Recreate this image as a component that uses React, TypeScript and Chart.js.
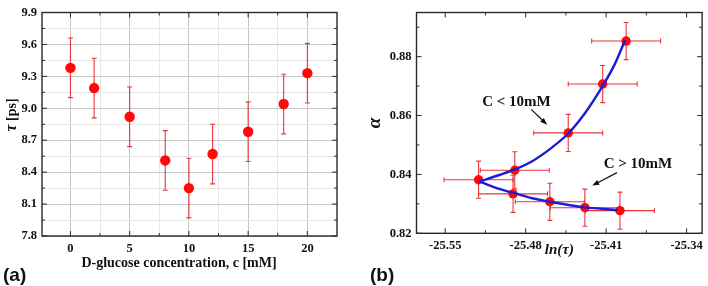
import React, { useEffect, useRef } from 'react';
import { Chart, registerables } from 'chart.js';
Chart.register(...registerables);

// ---------- Panel (a) data ----------
const concentrations = [0, 2, 5, 8, 10, 12, 15, 18, 20];
const tauValues = [9.38, 9.19, 8.92, 8.51, 8.25, 8.57, 8.78, 9.04, 9.33];
const tauErrors = [0.28, 0.28, 0.28, 0.28, 0.28, 0.28, 0.28, 0.28, 0.28];
const aXMajor = [0, 5, 10, 15, 20];
const aXMinor = [2.5, 7.5, 12.5, 17.5];
const aYMajor = [7.8, 8.1, 8.4, 8.7, 9.0, 9.3, 9.6, 9.9];
const aYMinor = [7.95, 8.25, 8.55, 8.85, 9.15, 9.45, 9.75];
const aXTitle = 'D-glucose concentration, c [mM]';
const aYTitleSymbol = 'τ';
const aYTitleUnit = ' [ps]';

// ---------- Panel (b) data ----------
const lnTau = [-25.521, -25.4895, -25.443, -25.413, -25.3926, -25.491, -25.459, -25.4285, -25.398];
const alphaValues = [0.8382, 0.8414, 0.8541, 0.8707, 0.8853, 0.8334, 0.8307, 0.8287, 0.8277];
const lnTauErrors = [0.03, 0.03, 0.03, 0.03, 0.03, 0.03, 0.03, 0.03, 0.03];
const alphaErrors = [0.0063, 0.0063, 0.0063, 0.0063, 0.0063, 0.0063, 0.0063, 0.0063, 0.0063];
const upperFitX = [-25.52, -25.503, -25.4895, -25.4743, -25.457, -25.443, -25.4285, -25.413, -25.4027, -25.3935];
const upperFitY = [0.8376, 0.8398, 0.8417, 0.8445, 0.8492, 0.8539, 0.8608, 0.8701, 0.8773, 0.8856];
const lowerFitX = [-25.52, -25.5059, -25.4909, -25.4743, -25.4588, -25.4428, -25.4285, -25.3998];
const lowerFitY = [0.8376, 0.8354, 0.8337, 0.8319, 0.8307, 0.8296, 0.8288, 0.8279];
const bXMajor = [-25.55, -25.48, -25.41, -25.34];
const bXMinor = [-25.515, -25.445, -25.375];
const bYMajor = [0.82, 0.84, 0.86, 0.88];
const bYMinor = [0.83, 0.85, 0.87, 0.89];
const annotationLabels = ['C < 10mM', 'C > 10mM'];
const annotationLabelX = [-25.488, -25.3823];
const annotationLabelY = [0.8647, 0.8436];
const arrowStartX = [-25.4752, -25.4006];
const arrowStartY = [0.8621, 0.8406];
const arrowEndX = [-25.4614, -25.4221];
const arrowEndY = [0.8569, 0.8362];

const SERIF = "'Liberation Serif', 'Times New Roman', serif";
const SANS = "'Liberation Sans', Arial, sans-serif";

const near = (arr: number[], v: number) => arr.some((m) => Math.abs(m - v) < 1e-6);

function setTicks(vals: number[]) {
  return (scale: any) => {
    scale.ticks = [...vals].sort((a, b) => a - b).map((v) => ({ value: v }));
  };
}

function framePlugin(xMajor: number[], xMinor: number[], yMajor: number[], yMinor: number[]) {
  return {
    id: 'frame',
    afterDatasetsDraw(chart: any) {
      const { ctx, chartArea: a, scales } = chart;
      const xs = scales.x;
      const ys = scales.y;
      ctx.save();
      ctx.strokeStyle = '#2a2a2a';
      ctx.lineWidth = 1;
      const drawX = (vals: number[], len: number) => {
        vals.forEach((v) => {
          const px = xs.getPixelForValue(v);
          if (px < a.left - 0.5 || px > a.right + 0.5) return;
          ctx.beginPath();
          ctx.moveTo(px, a.bottom);
          ctx.lineTo(px, a.bottom - len);
          ctx.moveTo(px, a.top);
          ctx.lineTo(px, a.top + len);
          ctx.stroke();
        });
      };
      const drawY = (vals: number[], len: number) => {
        vals.forEach((v) => {
          const py = ys.getPixelForValue(v);
          if (py < a.top - 0.5 || py > a.bottom + 0.5) return;
          ctx.beginPath();
          ctx.moveTo(a.left, py);
          ctx.lineTo(a.left + len, py);
          ctx.moveTo(a.right, py);
          ctx.lineTo(a.right - len, py);
          ctx.stroke();
        });
      };
      drawX(xMajor, 5);
      drawX(xMinor, 3);
      drawY(yMajor, 5);
      drawY(yMinor, 3);
      ctx.lineWidth = 1.4;
      ctx.strokeRect(a.left, a.top, a.right - a.left, a.bottom - a.top);
      ctx.restore();
    },
  };
}

function errorBarPlugin(xv: number[], yv: number[], xErr: number[] | null, yErr: number[], cap: number) {
  return {
    id: 'errorbars',
    beforeDatasetsDraw(chart: any) {
      const { ctx, scales } = chart;
      const xs = scales.x;
      const ys = scales.y;
      ctx.save();
      ctx.strokeStyle = '#e8363a';
      ctx.lineWidth = 1.1;
      for (let i = 0; i < xv.length; i++) {
        const px = xs.getPixelForValue(xv[i]);
        const py = ys.getPixelForValue(yv[i]);
        const top = ys.getPixelForValue(yv[i] + yErr[i]);
        const bot = ys.getPixelForValue(yv[i] - yErr[i]);
        ctx.beginPath();
        ctx.moveTo(px, top);
        ctx.lineTo(px, bot);
        ctx.moveTo(px - cap, top);
        ctx.lineTo(px + cap, top);
        ctx.moveTo(px - cap, bot);
        ctx.lineTo(px + cap, bot);
        if (xErr) {
          const l = xs.getPixelForValue(xv[i] - xErr[i]);
          const r = xs.getPixelForValue(xv[i] + xErr[i]);
          ctx.moveTo(l, py);
          ctx.lineTo(r, py);
          ctx.moveTo(l, py - cap);
          ctx.lineTo(l, py + cap);
          ctx.moveTo(r, py - cap);
          ctx.lineTo(r, py + cap);
        }
        ctx.stroke();
      }
      ctx.restore();
    },
  };
}

function panelLabelPlugin(text: string, x: number, y: number) {
  return {
    id: 'panelLabel',
    afterDraw(chart: any) {
      const { ctx } = chart;
      ctx.save();
      ctx.fillStyle = '#111';
      ctx.font = `bold 19px ${SANS}`;
      ctx.textAlign = 'left';
      ctx.textBaseline = 'middle';
      ctx.fillText(text, x, y);
      ctx.restore();
    },
  };
}

// axis titles of panel (a), with an italic tau
const titlesAPlugin = {
  id: 'titlesA',
  afterDraw(chart: any) {
    const { ctx } = chart;
    ctx.save();
    ctx.fillStyle = '#111';
    ctx.textBaseline = 'middle';
    ctx.textAlign = 'center';
    ctx.font = `bold 14px ${SERIF}`;
    ctx.fillText(aXTitle, 179, 263);
    // rotated y title
    ctx.translate(12, 115);
    ctx.rotate(-Math.PI / 2);
    const symFont = `italic bold 16px ${SERIF}`;
    const unitFont = `bold 14px ${SERIF}`;
    ctx.font = symFont;
    const w1 = ctx.measureText(aYTitleSymbol).width;
    ctx.font = unitFont;
    const w2 = ctx.measureText(aYTitleUnit).width;
    const start = -(w1 + w2) / 2;
    ctx.textAlign = 'left';
    ctx.font = symFont;
    ctx.fillText(aYTitleSymbol, start, 0);
    ctx.font = unitFont;
    ctx.fillText(aYTitleUnit, start + w1, 0);
    ctx.restore();
  },
};

const annotationPlugin = {
  id: 'annotations',
  afterDatasetsDraw(chart: any) {
    const { ctx, scales } = chart;
    const xs = scales.x;
    const ys = scales.y;
    ctx.save();
    ctx.fillStyle = '#111';
    ctx.strokeStyle = '#111';
    ctx.font = `bold 15px ${SERIF}`;
    ctx.textAlign = 'center';
    ctx.textBaseline = 'middle';
    annotationLabels.forEach((t, i) => {
      ctx.fillText(t, xs.getPixelForValue(annotationLabelX[i]), ys.getPixelForValue(annotationLabelY[i]));
      const x0 = xs.getPixelForValue(arrowStartX[i]);
      const y0 = ys.getPixelForValue(arrowStartY[i]);
      const x1 = xs.getPixelForValue(arrowEndX[i]);
      const y1 = ys.getPixelForValue(arrowEndY[i]);
      const ang = Math.atan2(y1 - y0, x1 - x0);
      const hl = 7;
      const hw = 2.6;
      ctx.lineWidth = 1.2;
      ctx.beginPath();
      ctx.moveTo(x0, y0);
      ctx.lineTo(x1 - Math.cos(ang) * hl * 0.8, y1 - Math.sin(ang) * hl * 0.8);
      ctx.stroke();
      ctx.beginPath();
      ctx.moveTo(x1, y1);
      ctx.lineTo(x1 - Math.cos(ang) * hl - Math.sin(ang) * hw, y1 - Math.sin(ang) * hl + Math.cos(ang) * hw);
      ctx.lineTo(x1 - Math.cos(ang) * hl + Math.sin(ang) * hw, y1 - Math.sin(ang) * hl - Math.cos(ang) * hw);
      ctx.closePath();
      ctx.fill();
    });
    ctx.restore();
  },
};

function configA(): any {
  return {
    type: 'scatter',
    data: {
      datasets: [
        {
          data: concentrations.map((c, i) => ({ x: c, y: tauValues[i] })),
          pointRadius: 5.2,
          pointBackgroundColor: '#ff0a0a',
          pointBorderWidth: 0,
          showLine: false,
        },
      ],
    },
    options: {
      responsive: false,
      animation: false,
      events: [],
      layout: { padding: { left: 0, right: 17, top: 4, bottom: 0 } },
      plugins: { legend: { display: false }, tooltip: { enabled: false } },
      scales: {
        x: {
          type: 'linear',
          min: -2.4,
          max: 22.5,
          afterBuildTicks: setTicks([...aXMajor, ...aXMinor]),
          afterFit: (s: any) => {
            s.height = 50;
          },
          ticks: {
            autoSkip: false,
            maxRotation: 0,
            minRotation: 0,
            padding: 5,
            color: '#111',
            font: { family: SERIF, size: 12.5, weight: 'bold' },
            callback: (v: number) => (near(aXMajor, v) ? String(Math.round(v)) : ''),
          },
          grid: {
            drawTicks: false,
            color: (c: any) => (c.tick && near(aXMajor, c.tick.value) ? '#c6c6c6' : '#e6e6e6'),
            lineWidth: 1,
          },
          border: { display: false },
          title: { display: false },
        },
        y: {
          type: 'linear',
          min: 7.8,
          max: 9.9,
          afterBuildTicks: setTicks([...aYMajor, ...aYMinor]),
          afterFit: (s: any) => {
            s.width = 42;
          },
          ticks: {
            autoSkip: false,
            padding: 5,
            color: '#111',
            font: { family: SERIF, size: 12.5, weight: 'bold' },
            callback: (v: number) => (near(aYMajor, v) ? v.toFixed(1) : ''),
          },
          grid: {
            drawTicks: false,
            color: (c: any) => (c.tick && near(aYMajor, c.tick.value) ? '#c6c6c6' : '#e6e6e6'),
            lineWidth: 1,
          },
          border: { display: false },
          title: { display: false },
        },
      },
    },
    plugins: [
      errorBarPlugin(concentrations, tauValues, null, tauErrors, 2.5),
      framePlugin(aXMajor, aXMinor, aYMajor, aYMinor),
      titlesAPlugin,
      panelLabelPlugin('(a)', 3, 276),
    ],
  };
}

function configB(): any {
  return {
    type: 'scatter',
    data: {
      datasets: [
        {
          data: upperFitX.map((x, i) => ({ x, y: upperFitY[i] })),
          showLine: true,
          pointRadius: 0,
          borderColor: '#1c1cd6',
          borderWidth: 2.4,
          cubicInterpolationMode: 'monotone',
          order: 0,
        },
        {
          data: lowerFitX.map((x, i) => ({ x, y: lowerFitY[i] })),
          showLine: true,
          pointRadius: 0,
          borderColor: '#1c1cd6',
          borderWidth: 2.4,
          cubicInterpolationMode: 'monotone',
          order: 0,
        },
        {
          data: lnTau.map((x, i) => ({ x, y: alphaValues[i] })),
          pointRadius: 4.7,
          pointBackgroundColor: '#ff0a0a',
          pointBorderWidth: 0,
          showLine: false,
          order: 1,
        },
      ],
    },
    options: {
      responsive: false,
      animation: false,
      events: [],
      layout: { padding: { left: 0, right: 2.3, top: 5.7, bottom: 0 } },
      plugins: { legend: { display: false }, tooltip: { enabled: false } },
      scales: {
        x: {
          type: 'linear',
          min: -25.575,
          max: -25.3265,
          afterBuildTicks: setTicks([...bXMajor, ...bXMinor]),
          afterFit: (s: any) => {
            s.height = 52.7;
          },
          ticks: {
            autoSkip: false,
            maxRotation: 0,
            minRotation: 0,
            padding: 5,
            color: '#111',
            font: { family: SERIF, size: 12.5, weight: 'bold' },
            callback: (v: number) => (near(bXMajor, v) ? v.toFixed(2) : ''),
          },
          grid: { display: false, drawTicks: false },
          border: { display: false },
          title: {
            display: true,
            text: 'ln(τ)',
            color: '#111',
            font: { family: SERIF, size: 15, weight: 'bold', style: 'italic' },
            padding: { top: 0, bottom: 27 },
          },
        },
        y: {
          type: 'linear',
          min: 0.82,
          max: 0.895,
          afterBuildTicks: setTicks([...bYMajor, ...bYMinor]),
          afterFit: (s: any) => {
            s.width = 62.5;
          },
          ticks: {
            autoSkip: false,
            padding: 5,
            color: '#111',
            font: { family: SERIF, size: 12.5, weight: 'bold' },
            callback: (v: number) => (near(bYMajor, v) ? v.toFixed(2) : ''),
          },
          grid: { display: false, drawTicks: false },
          border: { display: false },
          title: {
            display: true,
            text: 'α',
            color: '#111',
            font: { family: SERIF, size: 19, weight: 'bold', style: 'italic' },
            padding: { top: 10, bottom: 0 },
          },
        },
      },
    },
    plugins: [
      errorBarPlugin(lnTau, alphaValues, lnTauErrors, alphaErrors, 2.5),
      framePlugin(bXMajor, bXMinor, bYMajor, bYMinor),
      annotationPlugin,
      panelLabelPlugin('(b)', 16, 276),
    ],
  };
}

function Panel({ makeConfig, left }: { makeConfig: () => any; left: number }) {
  const ref = useRef<HTMLCanvasElement | null>(null);
  useEffect(() => {
    if (!ref.current) return;
    const chart = new Chart(ref.current, makeConfig());
    return () => chart.destroy();
  }, [makeConfig]);
  return (
    <div style={{ position: 'absolute', left, top: 0, width: 354, height: 286 }}>
      <canvas ref={ref} width={354} height={286} style={{ display: 'block', width: 354, height: 286 }} />
    </div>
  );
}

export default function App() {
  return (
    <div
      style={{
        position: 'fixed',
        left: 0,
        top: 0,
        width: 708,
        height: 286,
        background: '#ffffff',
        overflow: 'hidden',
      }}
    >
      <Panel makeConfig={configA} left={0} />
      <Panel makeConfig={configB} left={354} />
    </div>
  );
}
